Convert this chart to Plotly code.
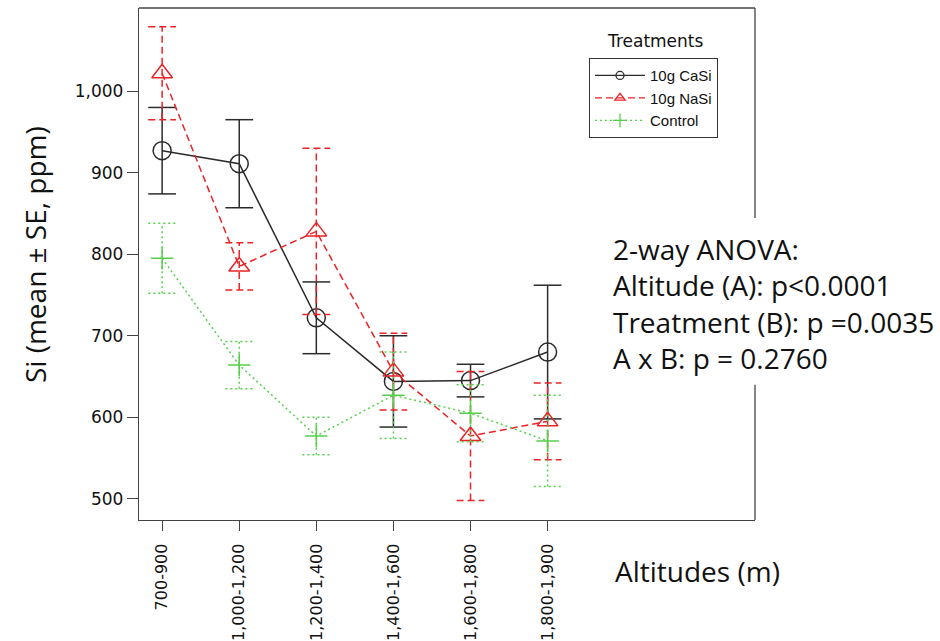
import plotly.graph_objects as go

# Altitude classes (x categories)
altitudes = ["700-900", "1,000-1,200", "1,200-1,400", "1,400-1,600", "1,600-1,800", "1,800-1,900"]

# Si concentration, mean and standard error (ppm)
casi_mean = [927, 911, 722, 644, 645, 680]
casi_se = [53, 54, 44, 56, 20, 82]

nasi_mean = [1022, 785, 828, 656, 577, 595]
nasi_se = [57, 29, 102, 47, 79, 47]

ctrl_mean = [795, 664, 577, 627, 605, 571]
ctrl_se = [43, 29, 23, 53, 35, 56]

series_names = ["10g CaSi", "10g NaSi", "Control"]
anova_lines = [
    "2-way ANOVA:",
    "Altitude (A): p<0.0001",
    "Treatment (B): p =0.0035",
    "A x B: p = 0.2760",
]

BLACK = "#2b2b2b"
RED = "#ec2327"
GREEN = "#55d04a"

styles = [
    dict(color=BLACK, dash="solid", symbol="circle-open", size=18, lsym=8),
    dict(color=RED, dash="7px,4px", symbol="triangle-up-open", size=18, lsym=9),
    dict(color=GREEN, dash="2px,3px", symbol="cross-thin", size=16, lsym=10),
]

xs = list(range(len(altitudes)))
CAP = 0.18  # half-width of error-bar caps, in category units

fig = go.Figure()


def error_segments(means, ses):
    ex, ey = [], []
    for i, (m, s) in enumerate(zip(means, ses)):
        lo, hi = m - s, m + s
        ex += [i, i, None, i - CAP, i + CAP, None, i - CAP, i + CAP, None]
        ey += [lo, hi, None, hi, hi, None, lo, lo, None]
    return ex, ey


for name, means, ses, st in zip(series_names,
                                [casi_mean, nasi_mean, ctrl_mean],
                                [casi_se, nasi_se, ctrl_se],
                                styles):
    ex, ey = error_segments(means, ses)
    fig.add_trace(go.Scatter(
        x=ex, y=ey, mode="lines", showlegend=False, hoverinfo="skip",
        line=dict(color=st["color"], width=1.5, dash=st["dash"]),
    ))
    fig.add_trace(go.Scatter(
        x=xs, y=means, mode="lines+markers", name=name, showlegend=False,
        line=dict(color=st["color"], width=1.5, dash=st["dash"]),
        marker=dict(symbol=st["symbol"], size=st["size"], color=st["color"],
                    line=dict(color=st["color"], width=1.5)),
    ))
    # small-symbol legend entry
    fig.add_trace(go.Scatter(
        x=[None], y=[None], mode="lines+markers", name=name,
        line=dict(color=st["color"], width=1.3, dash=st["dash"]),
        marker=dict(symbol=st["symbol"], size=st["lsym"], color=st["color"],
                    line=dict(color=st["color"], width=1.3)),
    ))

FRAME = "#444444"

fig.update_xaxes(
    range=[-0.3, 7.69], tickmode="array", tickvals=xs, ticktext=altitudes,
    tickangle=-90, ticks="outside", ticklen=10, tickwidth=1.3, tickcolor=FRAME,
    ticklabelstandoff=6, automargin=False,
    showline=True, linecolor=FRAME, linewidth=1.3, showgrid=False, zeroline=False,
    tickfont=dict(family="DejaVu Sans", size=16, color="#111"),
)
fig.update_yaxes(
    range=[474, 1102], tickmode="array", tickvals=[500, 600, 700, 800, 900, 1000],
    tickformat=",d", ticks="outside", ticklen=11, tickwidth=1.3, tickcolor=FRAME,
    automargin=False,
    showline=True, linecolor=FRAME, linewidth=1.3, showgrid=False, zeroline=False,
    tickfont=dict(family="DejaVu Sans", size=17, color="#111"),
)

# top edge and the right edge of the frame (interrupted behind the ANOVA text)
frame_line = dict(color=FRAME, width=1.3)
fig.add_shape(type="line", xref="x domain", yref="y domain", x0=0, x1=1, y0=1, y1=1, line=frame_line)
fig.add_shape(type="line", xref="x domain", yref="y domain", x0=1, x1=1, y0=1, y1=0.59, line=frame_line)
fig.add_shape(type="line", xref="x domain", yref="y domain", x0=1, x1=1, y0=0.264, y1=0, line=frame_line)

TEXT_FONT = "Open Sans"

annotations = [
    dict(text="Treatments", xref="paper", yref="paper", x=0.7565, y=0.9355,
         xanchor="left", yanchor="middle", showarrow=False,
         font=dict(family="DejaVu Sans", size=17, color="#111")),
    dict(text="Si (mean \u00b1 SE, ppm)", xref="paper", yref="paper", x=-0.1688, y=(520 - 255) / 512,
         xanchor="center", yanchor="middle", textangle=-90, showarrow=False,
         font=dict(family=TEXT_FONT, size=28, color="#111")),
    dict(text="Altitudes (m)", xref="paper", yref="paper", x=0.7695, y=-0.0996,
         xanchor="left", yanchor="middle", showarrow=False,
         font=dict(family=TEXT_FONT, size=28, color="#111")),
    dict(text="<br>".join(anova_lines), xref="paper", yref="paper",
         x=(611 - 139) / 616, y=(520 - 303) / 512,
         xanchor="left", yanchor="middle", align="left", showarrow=False,
         font=dict(family=TEXT_FONT, size=28, color="#111")),
]

fig.update_layout(
    width=940, height=641,
    margin=dict(l=139, r=185, t=8, b=121),
    paper_bgcolor="white", plot_bgcolor="white",
    annotations=annotations,
    legend=dict(
        x=0.7305, y=0.902, xanchor="left", yanchor="top",
        bordercolor="#333", borderwidth=1, bgcolor="white",
        font=dict(family="Liberation Sans", size=15, color="#111"),
        itemwidth=50, tracegroupgap=0,
    ),
)

fig.write_html("out.html")
